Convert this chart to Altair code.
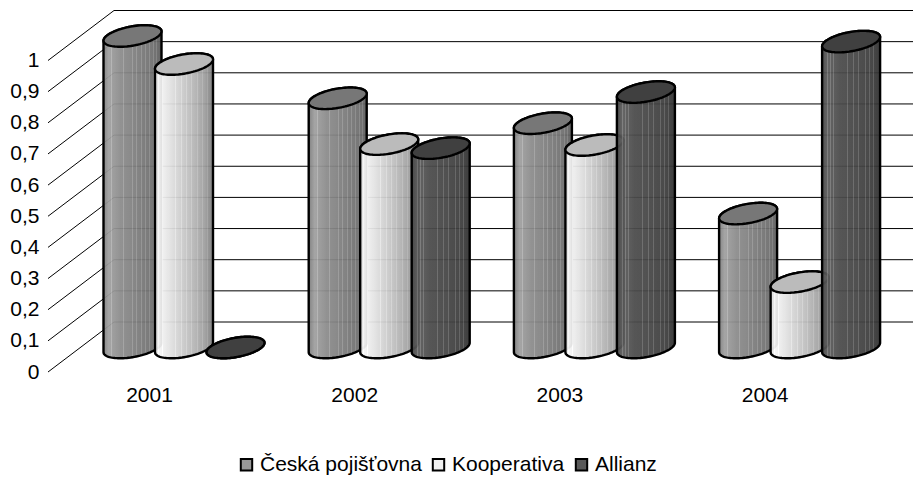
import numpy as np
import pandas as pd
import altair as alt

years = ["2001", "2002", "2003", "2004"]
series = ["Česká pojišťovna", "Kooperativa", "Allianz"]
ceska = [1.0, 0.80, 0.72, 0.43]
kooperativa = [0.91, 0.653, 0.65, 0.21]
allianz = [0.0, 0.64, 0.82, 0.982]
tick_values = [0, 0.1, 0.2, 0.3, 0.4, 0.5, 0.6, 0.7, 0.8, 0.9, 1]
tick_labels = ["0", "0,1", "0,2", "0,3", "0,4", "0,5", "0,6", "0,7", "0,8", "0,9", "1"]

FONT = "Liberation Sans"
FS = 21
W, H = 905, 469
PITCH, STEP = 205.2, 51.5           # px per category / series
UNIT = 311.5                        # px per value unit
XD = [(8 - 132.5) / PITCH, (913 - 132.5) / PITCH]
YD = [(347.5 - 477) / UNIT, (347.5 - 8) / UNIT]
xs = alt.Scale(domain=XD, nice=False, zero=False)
ys = alt.Scale(domain=YD, nice=False, zero=False)
X = alt.X("x:Q", scale=xs, axis=None)
Y = alt.Y("y:Q", scale=ys, axis=None)
Y2 = alt.Y2("y2:Q")
FRONT, BACK = 24.5 / UNIT, 25.5 / UNIT


def px_x(p):
    return (p - 132.5) / PITCH


# 3D wall grid
grid_rows = []
for i, v in enumerate(tick_values):
    grid_rows += [
        dict(g=i, o=0, x=px_x(48), y=v - FRONT),
        dict(g=i, o=1, x=px_x(114), y=v + BACK),
        dict(g=i, o=2, x=XD[1], y=v + BACK),
    ]
grid = alt.Chart(pd.DataFrame(grid_rows)).mark_line(color="black", strokeWidth=1).encode(
    x=X, y=Y, detail="g:N", order="o:Q"
)


# cylinders
A = 29 / PITCH
BPX, SPX = 9.7 / UNIT, 4.7 / UNIT
ts = np.cos(np.linspace(np.pi, 0, 49))


def frames(vals, s):
    body, top = [], []
    for i, v in enumerate(vals):
        cx = i + s * STEP / PITCH
        for t in ts:
            arc = BPX * np.sqrt(max(0.0, 1 - t * t))
            shear = SPX * t
            x = cx + A * t
            body.append(dict(c=i, x=x, y=v + shear + arc, y2=shear - arc))
            top.append(dict(c=i, x=x, y=v + shear + arc, y2=v + shear - arc))
    return pd.DataFrame(body), pd.DataFrame(top)


def gradient(ramp, stripes, bump):
    n = 58
    stops = []
    for k in range(n):
        t = (k + 0.5) / n
        g = np.interp(t, [r[0] for r in ramp], [r[1] for r in ramp])
        if k in stripes:
            g += bump
        g = int(min(255, g))
        col = f"#{g:02x}{g:02x}{g:02x}"
        stops.append(alt.GradientStop(offset=k / n, color=col))
        stops.append(alt.GradientStop(offset=(k + 1) / n, color=col))
    return alt.LinearGradient(gradient="linear", x1=0, x2=1, y1=0, y2=0, stops=stops)


styles = [
    (ceska, gradient([(0, 125), (0.1, 160), (0.3, 140), (0.6, 125), (0.85, 112), (1, 95)],
                     {8, 20, 29, 33, 38, 42, 46, 50, 53}, 22), "#777777"),
    (kooperativa, gradient([(0, 225), (0.08, 245), (0.3, 222), (0.6, 190), (0.85, 160), (1, 125)],
                           {3, 7, 20, 26, 31, 36, 42, 47, 52}, 14), "#bbbbbb"),
    (allianz, gradient([(0, 70), (0.1, 92), (0.3, 76), (0.6, 70), (0.85, 62), (1, 50)],
                       {5, 8, 11, 25, 31, 36, 43, 47, 51}, 30), "#404040"),
]

layers = [grid]
for s, (vals, grad, topcol) in enumerate(styles):
    b, t = frames(vals, s)
    layers.append(
        alt.Chart(b).mark_area(fill=grad, fillOpacity=0.94, stroke="black", strokeWidth=2.4)
        .encode(x=X, y=Y, y2=Y2, detail="c:N")
    )
    layers.append(
        alt.Chart(t).mark_area(fill=topcol, stroke="black", strokeWidth=2.4)
        .encode(x=X, y=Y, y2=Y2, detail="c:N")
    )

# value labels at the front plane
lab = pd.DataFrame({"x": px_x(39.5), "y": [v - FRONT for v in tick_values], "t": tick_labels})
layers.append(
    alt.Chart(lab).mark_text(align="right", baseline="middle", font=FONT, fontSize=FS, color="black", dy=0.5)
    .encode(x=X, y=Y, text="t:N")
)

# category labels
cat = pd.DataFrame({"x": [i + px_x(149.5) for i in range(4)], "y": (347.5 - 396) / UNIT, "t": years})
layers.append(
    alt.Chart(cat).mark_text(align="center", baseline="middle", font=FONT, fontSize=FS, color="black")
    .encode(x=X, y=Y, text="t:N")
)

# legend
leg = alt.Chart(pd.DataFrame({"s": series})).mark_square(size=0, opacity=1).encode(
    x=alt.value(0),
    y=alt.value(0),
    color=alt.Color(
        "s:N",
        scale=alt.Scale(domain=series, range=["#999999", "#f2f2f2", "#595959"]),
        legend=alt.Legend(
            orient="none", legendX=228, legendY=446, direction="horizontal", title=None,
            symbolType="square", symbolSize=130, symbolStrokeColor="black", symbolStrokeWidth=2,
            symbolOpacity=1, labelFont=FONT, labelFontSize=FS, labelColor="black", labelOffset=3,
            labelLimit=300, columnPadding=6, padding=0,
        ),
    ),
)
layers.append(leg)

chart = alt.layer(*layers).properties(
    width=W, height=H, padding=0, autosize=alt.AutoSizeParams(type="none"), background="white"
).configure_view(stroke=None)

chart.save("out.html", embed_options={"renderer": "svg", "actions": False})
